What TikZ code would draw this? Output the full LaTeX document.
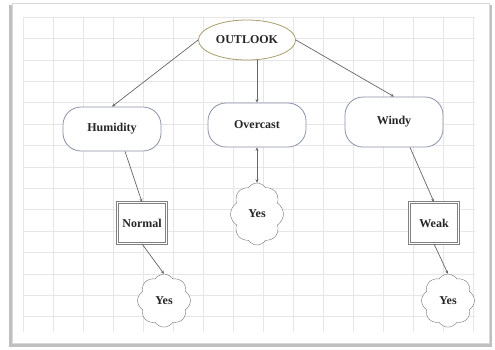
\documentclass[tikz,border=0pt]{standalone}
\usepackage{fontspec}
\setmainfont{Liberation Serif}
\usetikzlibrary{positioning,arrows.meta,shapes.geometric,shapes.symbols}
\definecolor{c1}{HTML}{A89C6E}
\definecolor{c2}{HTML}{8C93AA}
\definecolor{c3}{HTML}{E6E6E6}

\begin{document}
\begin{tikzpicture}[x=1pt, y=-1pt,
  node distance=30pt,
  lbl/.style={font=\bfseries\fontsize{12}{14}\selectfont, text=black!85},
  rootnode/.style={lbl, draw=c1, thick, ellipse, minimum width=87pt, minimum height=40pt, fill=white},
  attr/.style={lbl, draw=c2, thick, rounded corners=18pt, minimum width=98pt, minimum height=44pt, fill=white},
  val/.style={lbl, fill=white, draw=black!50, line width=0.8pt, double=white, double distance=1.6pt,
              minimum width=49pt, minimum height=41pt},
  leaf/.style={lbl, draw=black!55, cloud, cloud puffs=8, cloud puff arc=115, aspect=0.9,
               minimum width=53pt, minimum height=53pt, fill=white, inner sep=1pt},
  gridline/.style={draw=c3, line width=0.5pt},
  arr/.style={-{Stealth[length=3.5pt,width=3pt]}, draw=black!60, line width=0.7pt},
  arrr/.style={{Stealth[length=3.5pt,width=3pt]}-{Stealth[length=3.5pt,width=3pt]}, draw=black!60, line width=0.7pt}]
  \useasboundingbox (0,0) rectangle (495,349);
  % sheet with shadow
  \fill[black!25] (9,5) rectangle (492,347);
  \filldraw[fill=white, draw=black!15] (12,3) rectangle (489,343);
  \foreach \x in {23,53,...,473} \draw[gridline] (\x,17) -- (\x,332);
  \foreach \y in {17,38.4,...,332} \draw[gridline] (23,\y) -- (475,\y);
  % tree
  \node[rootnode] (out) at (247,40) {OUTLOOK};
  \node[attr] (hum) at (112,129) {Humidity};
  \node[attr] (ovc) at (257,125) {Overcast};
  \node[attr, minimum height=50pt] (win) at (394,122) {Windy};
  \node[val] (nor) at (142,223) {Normal};
  \node[val] (wea) at (434,223) {Weak};
  \node[leaf, minimum height=62pt] (yes2) at (257,214) {Yes};
  \node[leaf, below=30pt of nor, xshift=22pt] (yes1) {Yes};
  \node[leaf, below=30pt of wea, xshift=14pt] (yes3) {Yes};
  \draw[arr] (out.west) -- (hum.north);
  \draw[arr] (ovc.north |- out.south) -- (ovc.north);
  \draw[arr] (out.east) -- (win.north);
  \draw[arr] ([xshift=13pt]hum.south) -- (nor.north);
  \draw[arrr] (ovc.south) -- (yes2.north);
  \draw[arr] (nor.south) -- (yes1.north);
  \draw[arr] ([xshift=16pt]win.south) -- (wea.north);
  \draw[arr] (wea.south) -- (yes3.north);
\end{tikzpicture}
\end{document}
